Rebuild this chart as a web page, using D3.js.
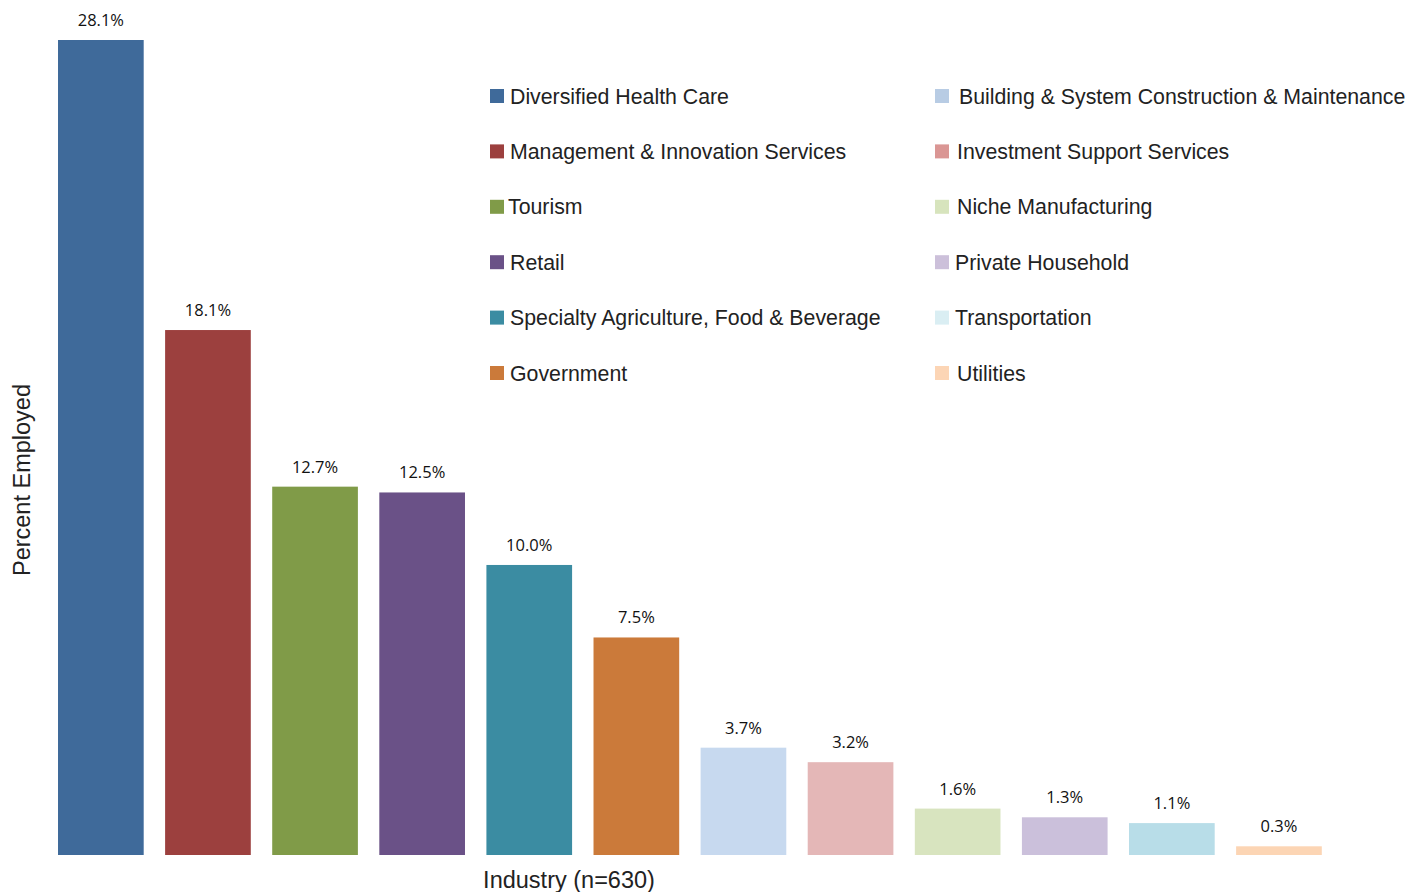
<!DOCTYPE html>
<html>
<head>
<meta charset="utf-8">
<script src="https://cdn.jsdelivr.net/npm/d3@7"></script>
<style>
  body { margin: 0; background: #fff; }
  .val { font-family: 'Open Sans', 'Noto Sans', sans-serif; font-size: 16.5px; fill: #111; }
  .leg { font-family: 'Liberation Sans', Arial, sans-serif; font-size: 21.3px; fill: #222; }
  .title { font-family: 'Liberation Sans', Arial, sans-serif; font-size: 23.5px; fill: #222; }
</style>
</head>
<body>
<script>
const industries = [
  'Diversified Health Care',
  'Management & Innovation Services',
  'Tourism',
  'Retail',
  'Specialty Agriculture, Food & Beverage',
  'Government',
  'Building & System Construction & Maintenance',
  'Investment Support Services',
  'Niche Manufacturing',
  'Private Household',
  'Transportation',
  'Utilities'
]
const percents = [28.1, 18.1, 12.7, 12.5, 10.0, 7.5, 3.7, 3.2, 1.6, 1.3, 1.1, 0.3]
const barColors = ['#3f6a9a', '#9c403e', '#809b48', '#6a5187', '#3b8ca2', '#cb7a3a',
  '#c7d9ef', '#e4b7b7', '#d8e4bf', '#cbc0db', '#b8dde8', '#fcd5b4']
const legendColors = ['#3f6a9a', '#9c403e', '#809b48', '#6a5187', '#3b8ca2', '#cb7a3a',
  '#b8cce4', '#da9694', '#d7e4bd', '#ccc0da', '#daeef3', '#fcd5b5']
// small per-item nudges of the legend text, as in the original
const legendTextX = [20, 20, 18, 20, 20, 20, 24, 22, 22, 20, 20, 22]

const WIDTH = 1424
const HEIGHT = 892

const svg = d3.select('body').append('svg')
  .attr('width', WIDTH)
  .attr('height', HEIGHT)

const x = d3.scaleBand()
  .domain(industries)
  .range([47.3, 1332.5])
  .paddingInner(0.2)
  .paddingOuter(0.1)

const y = d3.scaleLinear()
  .domain([0, 28.1])
  .range([855, 40])

const data = industries.map((name, i) => ({name, value: percents[i], i}))

svg.append('g').selectAll('rect')
  .data(data)
  .join('rect')
  .attr('x', d => x(d.name))
  .attr('y', d => y(d.value))
  .attr('width', x.bandwidth())
  .attr('height', d => y(0) - y(d.value))
  .attr('fill', d => barColors[d.i])

svg.append('g').selectAll('text')
  .data(data)
  .join('text')
  .attr('class', 'val')
  .attr('x', d => x(d.name) + x.bandwidth() / 2)
  .attr('y', d => y(d.value) - 14)
  .attr('text-anchor', 'middle')
  .text(d => d.value.toFixed(1) + '%')

// legend, two columns of six
const legend = svg.append('g')
const rowY = d3.scalePoint().domain(d3.range(6)).range([96, 373])
const items = legend.selectAll('g')
  .data(data)
  .join('g')
  .attr('transform', d => `translate(${d.i < 6 ? 490 : 935},${rowY(d.i % 6)})`)

items.append('rect')
  .attr('x', 0)
  .attr('y', -7)
  .attr('width', 14)
  .attr('height', 14)
  .attr('fill', d => legendColors[d.i])

items.append('text')
  .attr('class', 'leg')
  .attr('x', d => legendTextX[d.i])
  .attr('y', 7.5)
  .text(d => d.name)

svg.append('text')
  .attr('class', 'title')
  .attr('transform', 'translate(30,480) rotate(-90)')
  .attr('text-anchor', 'middle')
  .text('Percent Employed')

svg.append('text')
  .attr('class', 'title')
  .attr('x', 569)
  .attr('y', 888)
  .attr('text-anchor', 'middle')
  .text('Industry (n=630)')
</script>
</body>
</html>
